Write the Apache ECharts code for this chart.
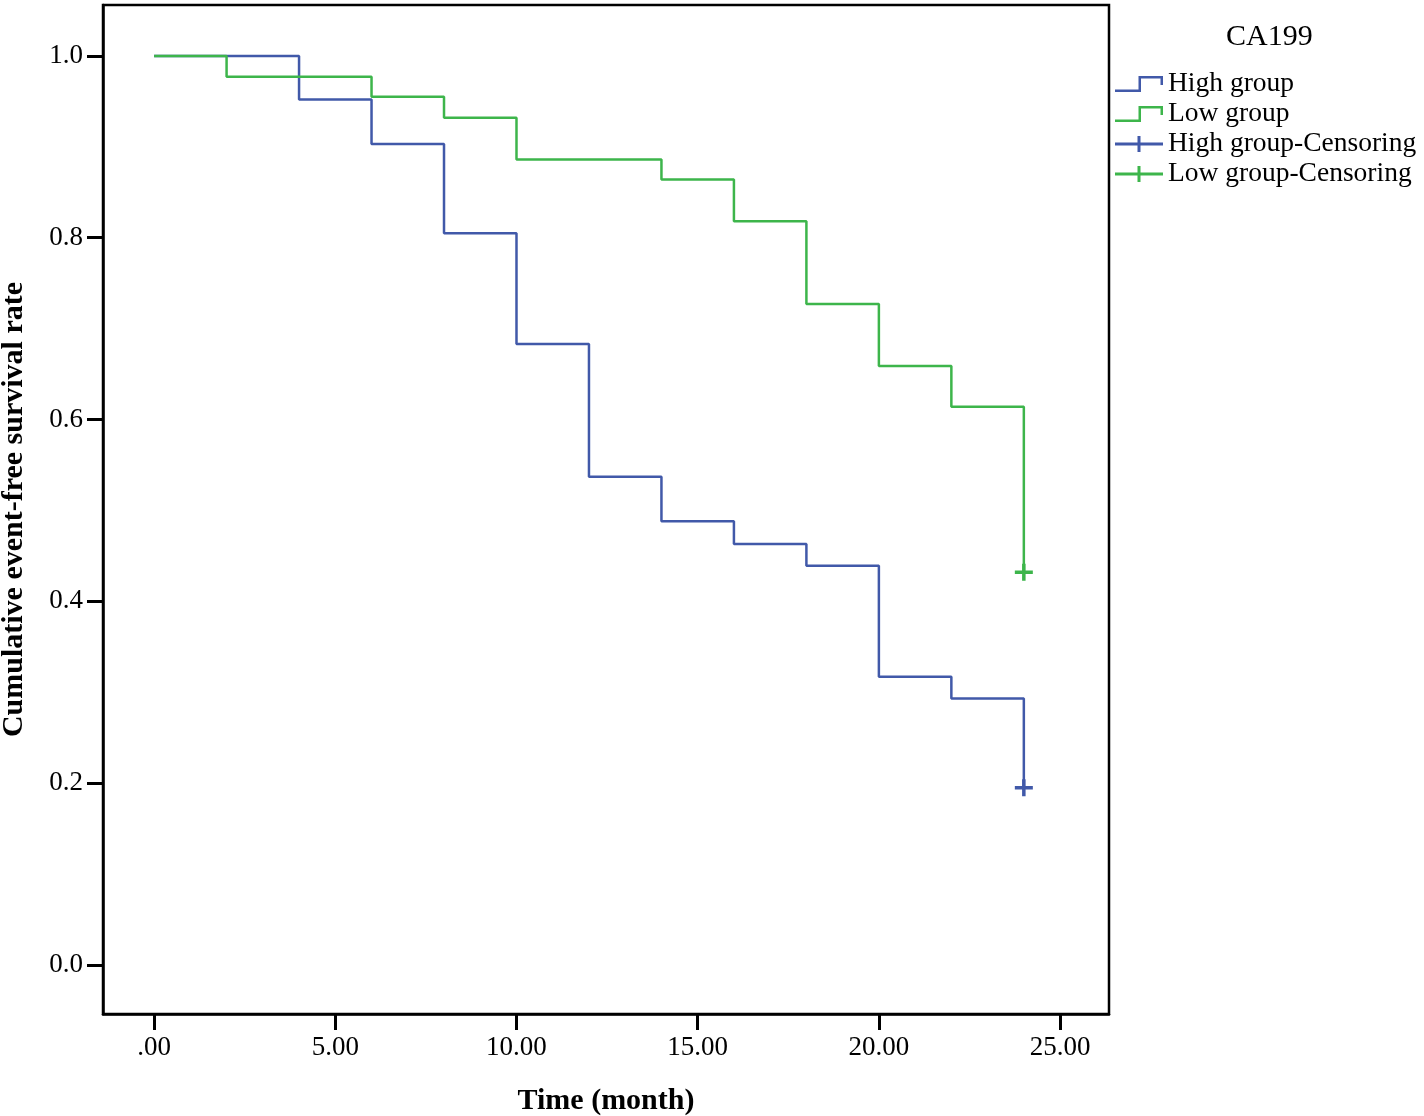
<!DOCTYPE html>
<html>
<head>
<meta charset="utf-8">
<script src="https://cdn.jsdelivr.net/npm/echarts@6/dist/echarts.min.js"></script>
<style>html,body{margin:0;padding:0;background:#fff}#c{width:1424px;height:1116px}</style>
</head>
<body>
<div id="c"></div>
<script>
// Event times (months) and survival values
var highTimes = [0, 4, 6, 8, 10, 12, 14, 16, 18, 20, 22, 24];
var highSurv  = [1.0, 0.952, 0.903, 0.805, 0.683, 0.537, 0.488, 0.463, 0.439, 0.317, 0.293, 0.195];
var lowTimes  = [0, 2, 6, 8, 10, 14, 16, 18, 20, 22, 24];
var lowSurv   = [1.0, 0.977, 0.955, 0.932, 0.886, 0.864, 0.818, 0.727, 0.659, 0.614, 0.432];
var highCensor = [[24, 0.195]];
var lowCensor  = [[24, 0.432]];
var xTicks = [0, 5, 10, 15, 20, 25];
var yTicks = [0, 0.2, 0.4, 0.6, 0.8, 1.0];
var legendTitle = 'CA199';
var seriesNames = ['High group', 'Low group', 'High group-Censoring', 'Low group-Censoring'];

var BLUE = '#4159a9', GREEN = '#3db54b';
var FONT = "'Liberation Serif','Times New Roman',serif";
function pairs(t, s){ return t.map(function(v,i){ return [v, s[i]]; }); }

var stepIcon = 'path://M0,13.5 L23.5,13.5 L23.5,0 L48,0 L48,9 L45.5,9 L45.5,2.5 L26,2.5 L26,16 L0,16 Z';
var plusIcon = 'path://M0,6.5 L22.5,6.5 L22.5,0 L25.5,0 L25.5,6.5 L48,6.5 L48,9.5 L25.5,9.5 L25.5,16 L22.5,16 L22.5,9.5 L0,9.5 Z';
var plusSym = 'path://M0,6.75 L7.25,6.75 L7.25,0 L10.75,0 L10.75,6.75 L18,6.75 L18,10.25 L10.75,10.25 L10.75,17 L7.25,17 L7.25,10.25 L0,10.25 Z';

var chart = echarts.init(document.getElementById('c'), null, {renderer:'canvas'});
chart.setOption({
  animation: false,
  backgroundColor: '#fff',
  textStyle: { fontFamily: FONT },
  title: {
    text: legendTitle, left: 1221, top: 17,
    textStyle: { fontFamily: FONT, fontSize: 30, fontWeight: 'normal', color: '#000' }
  },
  legend: {
    orient: 'vertical', left: 1115, top: 69, padding: 0, itemGap: 0,
    itemWidth: 48, itemHeight: 16,
    textStyle: { fontFamily: FONT, fontSize: 27.5, color: '#000', lineHeight: 30 },
    itemStyle: { borderWidth: 0, opacity: 1 },
    data: [
      { name: seriesNames[0], icon: stepIcon },
      { name: seriesNames[1], icon: stepIcon },
      { name: seriesNames[2], icon: plusIcon },
      { name: seriesNames[3], icon: plusIcon }
    ]
  },
  grid: {
    left: 103, right: 315, top: 5, bottom: 102, outerBoundsMode: 'none', containLabel: false,
    show: true, borderColor: '#000', borderWidth: 2.5, backgroundColor: '#fff'
  },
  xAxis: {
    type: 'value', min: -1.41, max: 26.35,
    name: 'Time (month)', nameLocation: 'middle', nameGap: 72,
    nameTextStyle: { fontFamily: FONT, fontSize: 30, fontWeight: 'bold', color: '#000' },
    axisLine: { show: true, onZero: false, lineStyle: { color: '#000', width: 2.5 } },
    axisTick: { show: true, inside: false, customValues: xTicks, length: 16, lineStyle: { color: '#000', width: 3 } },
    axisLabel: { customValues: xTicks, margin: 20, fontFamily: FONT, fontSize: 27, color: '#000',
      formatter: function(v){ return v === 0 ? '.00' : v.toFixed(2); } },
    splitLine: { show: false }
  },
  yAxis: {
    type: 'value', min: -0.054, max: 1.056,
    name: 'Cumulative event-free survival rate', nameLocation: 'middle', nameGap: 74,
    nameTextStyle: { fontFamily: FONT, fontSize: 30, fontWeight: 'bold', color: '#000' },
    axisLine: { show: true, onZero: false, lineStyle: { color: '#000', width: 2.5 } },
    axisTick: { show: true, inside: false, customValues: yTicks, length: 16, lineStyle: { color: '#000', width: 3 } },
    axisLabel: { customValues: yTicks, margin: 20, fontFamily: FONT, fontSize: 27, color: '#000',
      formatter: function(v){ return v.toFixed(1); } },
    splitLine: { show: false }
  },
  series: [
    { name: seriesNames[0], type: 'line', step: 'end', symbol: 'none', data: pairs(highTimes, highSurv),
      color: BLUE, lineStyle: { color: BLUE, width: 2.5 }, z: 3 },
    { name: seriesNames[1], type: 'line', step: 'end', symbol: 'none', data: pairs(lowTimes, lowSurv),
      color: GREEN, lineStyle: { color: GREEN, width: 2.5 }, z: 3 },
    { name: seriesNames[2], type: 'scatter', symbol: plusSym, symbolSize: [18, 17], data: highCensor,
      color: BLUE, itemStyle: { color: BLUE, opacity: 1 }, z: 4 },
    { name: seriesNames[3], type: 'scatter', symbol: plusSym, symbolSize: [18, 17], data: lowCensor,
      color: GREEN, itemStyle: { color: GREEN, opacity: 1 }, z: 4 }
  ]
});
</script>
</body>
</html>
